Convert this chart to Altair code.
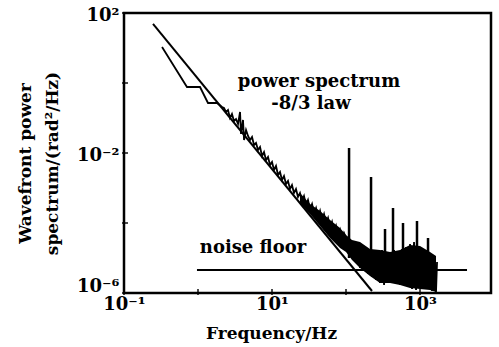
import altair as alt
import pandas as pd

# ---- data (exponents are log10 values) ----
# measured wavefront power spectrum: log10(frequency / Hz), log10(power / (rad^2/Hz))
spectrum_log10_freq = [
    -0.486, -0.149, 0.027, 0.135, 0.257, 0.324,
    0.351, 0.378, 0.405, 0.432, 0.459, 0.486, 0.514, 0.541, 0.568, 0.581,
    0.608, 0.622, 0.649, 0.676, 0.703, 0.730, 0.757, 0.784, 0.811, 0.838,
    0.865, 0.892, 0.919, 0.946, 0.973, 1.000, 1.027, 1.054, 1.081, 1.108,
    1.135, 1.162, 1.189, 1.216, 1.243, 1.270, 1.297, 1.324, 1.351, 1.378,
    1.405, 1.432, 1.459, 1.486, 1.514, 1.541, 1.568, 1.595, 1.622, 1.649,
    1.676, 1.703, 1.730, 1.757, 1.784, 1.811, 1.838, 1.865, 1.892, 1.919,
    1.946, 1.973,
    2.000, 2.027, 2.054, 2.081, 2.108, 2.135, 2.162, 2.189, 2.216, 2.243,
    2.270, 2.297, 2.324, 2.351, 2.378, 2.405, 2.432, 2.459, 2.486, 2.514,
    2.541, 2.568, 2.595, 2.622, 2.649, 2.676, 2.703, 2.730, 2.757, 2.784,
    2.811, 2.838, 2.865, 2.892, 2.919, 2.946, 2.973, 3.000, 3.027, 3.054,
    3.081, 3.108, 3.135, 3.162, 3.189, 3.216, 3.230,
]
spectrum_log10_power = [
    1.029, -0.114, -0.114, -0.571, -0.571, -0.686,
    -0.714, -0.829, -0.771, -1.000, -0.886, -1.086, -1.029, -1.171, -0.829, -1.457,
    -1.057, -1.629, -1.343, -1.514, -1.629, -1.543, -1.771, -1.714, -1.914, -1.829,
    -2.086, -1.971, -2.200, -2.114, -2.343, -2.257, -2.486, -2.371, -2.629, -2.543,
    -2.771, -2.657, -2.886, -2.800, -3.029, -2.914, -3.143, -3.029, -3.257, -3.143,
    -3.371, -3.229, -3.486, -3.343, -3.600, -3.457, -3.714, -3.571, -3.829, -3.657,
    -3.914, -3.743, -4.000, -3.857, -4.143, -3.971, -4.257, -4.086, -4.371, -4.200,
    -4.486, -4.286,
    -4.429, -4.829, -4.486, -5.000, -4.600, -5.143, -4.543, -5.286, -4.657, -5.371,
    -4.771, -5.457, -4.743, -5.543, -4.829, -5.629, -4.800, -5.714, -4.771, -5.771,
    -4.857, -5.714, -4.829, -5.657, -4.771, -5.629, -4.800, -5.771, -4.743, -5.714,
    -4.686, -5.829, -4.600, -5.886, -4.543, -5.914, -4.657, -5.857, -4.743, -5.800,
    -4.771, -5.886, -4.886, -5.943, -4.943, -5.971, -5.114,
]

# envelope of the dense noisy part of the spectrum
band_log10_freq = [1.378, 1.514, 1.649, 1.784, 1.919, 2.000, 2.081, 2.189,
                   2.324, 2.459, 2.595, 2.730, 2.865, 3.000, 3.135, 3.216]
band_log10_top = [-3.143, -3.457, -3.657, -3.914, -4.143, -4.343, -4.486, -4.543,
                  -4.743, -4.771, -4.829, -4.771, -4.629, -4.657, -4.829, -4.943]
band_log10_bottom = [-3.429, -3.743, -4.086, -4.429, -4.714, -4.829, -5.057, -5.286,
                     -5.514, -5.714, -5.714, -5.771, -5.857, -5.886, -5.914, -5.971]

# narrow spectral lines (spikes): frequency, base and peak
spike_log10_freq = [2.041, 2.338, 2.527, 2.635, 2.770, 2.959, 3.108]
spike_log10_peak = [-1.857, -2.686, -4.171, -3.571, -4.000, -3.943, -4.429]
spike_log10_base = [-5.0, -5.0, -5.0, -5.0, -5.0, -5.0, -5.0]

# -8/3 power law line (end points)
law_log10_freq = [-0.608, 2.351]
law_log10_power = [1.686, -5.943]

# noise floor (end points)
noise_log10_freq = [-0.014, 3.635]
noise_log10_power = [-5.343, -5.343]

# annotations
annot_text = ["power spectrum", "-8/3 law", "noise floor"]
annot_log10_freq = [1.635, 1.527, 0.743]
annot_log10_power = [0.029, -0.600, -4.714]

# axis tick positions
x_tick_values = [0.1, 1, 10, 100, 1000]
y_tick_values = [1e2, 1, 1e-2, 1e-4, 1e-6]

# ---- tables ----
spec_df = pd.DataFrame({
    "f": [10 ** v for v in spectrum_log10_freq],
    "p": [10 ** v for v in spectrum_log10_power],
    "i": list(range(len(spectrum_log10_freq))),
})
band_df = pd.DataFrame({
    "f": [10 ** v for v in band_log10_freq],
    "p": [10 ** v for v in band_log10_top],
    "p0": [10 ** v for v in band_log10_bottom],
})
spike_df = pd.DataFrame({
    "f": [10 ** v for v in spike_log10_freq],
    "p": [10 ** v for v in spike_log10_peak],
    "p0": [10 ** v for v in spike_log10_base],
})
law_df = pd.DataFrame({"f": [10 ** v for v in law_log10_freq],
                       "p": [10 ** v for v in law_log10_power]})
noise_df = pd.DataFrame({"f": [10 ** v for v in noise_log10_freq],
                         "p": [10 ** v for v in noise_log10_power]})
annot_df = pd.DataFrame({"t": annot_text,
                         "f": [10 ** v for v in annot_log10_freq],
                         "p": [10 ** v for v in annot_log10_power]})
xt_df = pd.DataFrame({"f": x_tick_values})
yt_df = pd.DataFrame({"p": y_tick_values})

FONT = "DejaVu Serif"
W, H = 367, 280

xs = alt.Scale(type="log", domain=[0.1, 9100], nice=False)
ys = alt.Scale(type="log", domain=[1e-6, 100], nice=False)

x_axis = alt.Axis(
    values=[0.1, 10, 1000],
    labelExpr="datum.value < 1 ? '10⁻¹' : datum.value < 100 ? '10¹' : '10³'",
    ticks=False, domain=False, grid=False, labelFlush=False, labelOverlap=False,
    labelFont=FONT, labelFontSize=18, labelFontWeight="bold", labelColor="black",
    labelPadding=2,
    title="Frequency/Hz", titleFont=FONT, titleFontSize=17, titleFontWeight="bold",
    titleColor="black", titleX=147, titleY=40, titleBaseline="middle", titleAlign="center",
)
y_axis = alt.Axis(
    values=[1e-6, 1e-2, 1e2],
    labelExpr="datum.value > 1 ? '10²' : datum.value > 1e-4 ? '10⁻²' : '10⁻⁶'",
    ticks=False, domain=False, grid=False, labelFlush=False, labelOverlap=False,
    labelFont=FONT, labelFontSize=18, labelFontWeight="bold", labelColor="black",
    labelPadding=5, labelOffset=2,
    labelBaseline={"condition": {"test": "datum.value < 1e-4", "value": "bottom"},
                   "value": "middle"},
    title=["Wavefront power", "spectrum/(rad²/Hz)"], titleFont=FONT, titleFontSize=17,
    titleFontWeight="bold", titleColor="black", titleAngle=-90, titleX=-107, titleY=150,
    titleBaseline="top", titleAlign="center", titleLineHeight=27,
)

X = alt.X("f:Q", scale=xs, axis=x_axis)
Y = alt.Y("p:Q", scale=ys, axis=y_axis)

spectrum = alt.Chart(spec_df).mark_line(color="black", strokeWidth=1.8, clip=True).encode(
    x=X, y=Y, order="i:Q",
)
band = alt.Chart(band_df).mark_area(color="black", opacity=1, interpolate="linear").encode(
    x=X, y=Y, y2="p0:Q",
)
spikes = alt.Chart(spike_df).mark_rule(color="black", strokeWidth=2.5).encode(
    x=X, y=Y, y2="p0:Q",
)
law = alt.Chart(law_df).mark_line(color="black", strokeWidth=2, clip=True).encode(
    x=X, y=Y,
)
noise = alt.Chart(noise_df).mark_line(color="black", strokeWidth=2.2).encode(
    x=X, y=Y,
)
annots = alt.Chart(annot_df).mark_text(
    font=FONT, fontSize=18, fontWeight="bold", color="black"
).encode(
    x=X, y=Y, text="t:N",
)
xticks = alt.Chart(xt_df).mark_tick(color="black", thickness=2, size=6).encode(
    x=X, y=alt.value(H - 1),
)
yticks = alt.Chart(yt_df).mark_tick(color="black", thickness=2, size=6).encode(
    y=Y, x=alt.value(1),
)

chart = alt.layer(spectrum, band, law, noise, spikes, annots, xticks, yticks).properties(
    width=W, height=H,
    autosize=alt.AutoSizeParams(type="none"),
    padding={"left": 124, "top": 13, "right": 8, "bottom": 54},
    background="white",
).configure_view(stroke="black", strokeWidth=2.5)

chart.save("out.html", embed_options={"renderer": "svg", "actions": False})
